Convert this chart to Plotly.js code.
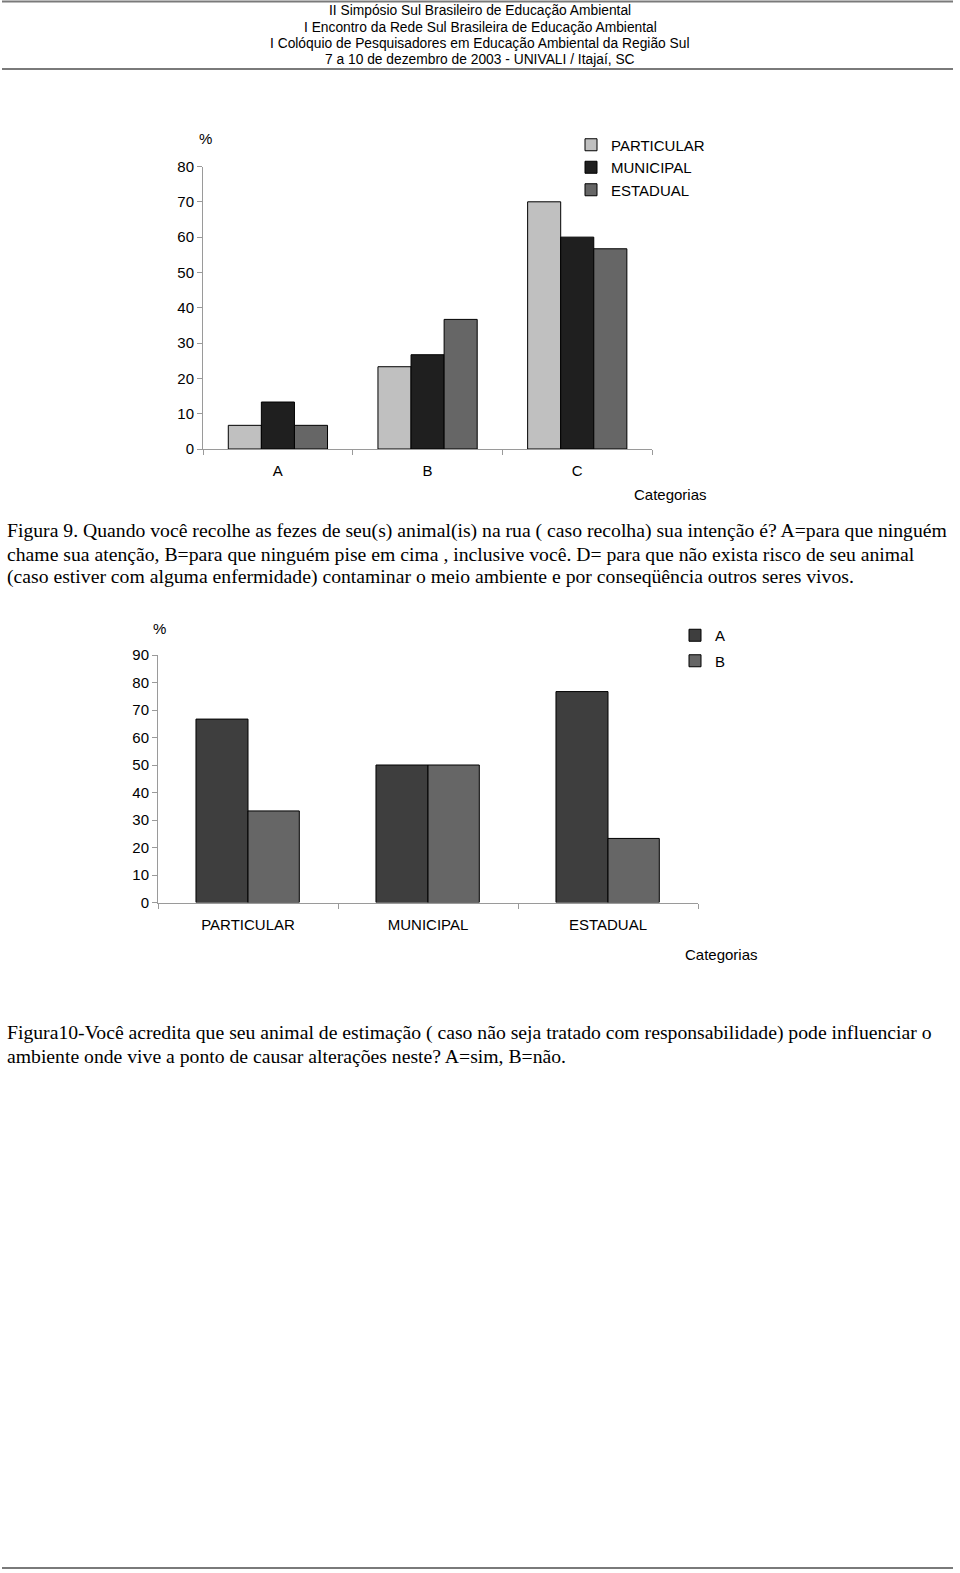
<!DOCTYPE html>
<html>
<head>
<meta charset="utf-8">
<script src="https://cdn.plot.ly/plotly-3.0.1.min.js"></script>
<style>
  html, body { margin: 0; padding: 0; background: #ffffff; }
  #page { width: 960px; height: 1573px; }
</style>
</head>
<body>
<div id="page"></div>
<script>
// ---------------- DATA ----------------
const headerLines = [
  'II Simpósio Sul Brasileiro de Educação Ambiental',
  'I Encontro da Rede Sul Brasileira de Educação Ambiental',
  'I Colóquio de Pesquisadores em Educação Ambiental da Região Sul',
  '7 a 10 de dezembro de 2003 - UNIVALI / Itajaí, SC'
];

// Figure 9
const categories1 = ['A', 'B', 'C'];
const seriesNames1 = ['PARTICULAR', 'MUNICIPAL', 'ESTADUAL'];
const particular1 = [6.7, 23.3, 70.0];
const municipal1 = [13.3, 26.7, 60.0];
const estadual1 = [6.7, 36.7, 56.7];
const yTicks1 = [0, 10, 20, 30, 40, 50, 60, 70, 80];

const caption1 = [
  'Figura 9. Quando você recolhe as fezes de seu(s) animal(is) na rua ( caso recolha) sua intenção é? A=para que ninguém',
  'chame sua atenção, B=para que ninguém pise em cima , inclusive você. D= para que não exista risco de seu animal',
  '(caso estiver com alguma enfermidade) contaminar o meio ambiente e por conseqüência outros seres vivos.'
];

// Figure 10
const categories2 = ['PARTICULAR', 'MUNICIPAL', 'ESTADUAL'];
const seriesNames2 = ['A', 'B'];
const serieA2 = [66.7, 50.0, 76.7];
const serieB2 = [33.3, 50.0, 23.3];
const yTicks2 = [0, 10, 20, 30, 40, 50, 60, 70, 80, 90];

const caption2 = [
  'Figura10-Você acredita que seu animal de estimação ( caso não seja tratado com responsabilidade) pode influenciar o',
  'ambiente onde vive a ponto de causar alterações neste? A=sim, B=não.'
];

const unitLabel = '%';
const axisTitle = 'Categorias';

// ---------------- LAYOUT HELPERS ----------------
const W = 960, H = 1573;
const px = v => v / W;
const py = v => 1 - v / H;

const SANS = 'Liberation Sans, Arial, sans-serif';
const SERIF = 'Liberation Serif, Times New Roman, serif';
const axisGrey = '#9a9a9a';

const barLine = { color: '#000000', width: 1 };

const traces = [
  { type: 'bar', name: seriesNames1[0], x: categories1, y: particular1, xaxis: 'x', yaxis: 'y',
    marker: { color: '#c0c0c0', line: barLine }, width: 0.221, offset: -0.331, legend: 'legend', hoverinfo: 'x+y+name' },
  { type: 'bar', name: seriesNames1[1], x: categories1, y: municipal1, xaxis: 'x', yaxis: 'y',
    marker: { color: '#1f1f1f', line: barLine }, width: 0.221, offset: -0.110, legend: 'legend', hoverinfo: 'x+y+name' },
  { type: 'bar', name: seriesNames1[2], x: categories1, y: estadual1, xaxis: 'x', yaxis: 'y',
    marker: { color: '#666666', line: barLine }, width: 0.221, offset: 0.111, legend: 'legend', hoverinfo: 'x+y+name' },

  { type: 'bar', name: seriesNames2[0], x: categories2, y: serieA2, xaxis: 'x2', yaxis: 'y2',
    marker: { color: '#3e3e3e', line: barLine }, width: 0.289, offset: -0.289, legend: 'legend2', legendgroup: 'gA', hoverinfo: 'x+y+name' },
  { type: 'bar', name: seriesNames2[1], x: categories2, y: serieB2, xaxis: 'x2', yaxis: 'y2',
    marker: { color: '#666666', line: barLine }, width: 0.285, offset: 0.0, legend: 'legend2', legendgroup: 'gB', hoverinfo: 'x+y+name' }
];

const commonX = {
  type: 'category',
  showline: true, linecolor: axisGrey, linewidth: 1,
  ticks: 'outside', ticklen: 5, tickcolor: axisGrey, tickwidth: 1,
  tickson: 'boundaries',
  showgrid: false, zeroline: false,
  tickfont: { family: SANS, size: 15, color: '#000000' },
  ticklabelstandoff: 8,
  fixedrange: true
};
const commonY = {
  showline: true, linecolor: axisGrey, linewidth: 1,
  ticks: 'outside', ticklen: 5, tickcolor: axisGrey, tickwidth: 1,
  showgrid: false, zeroline: false,
  tickmode: 'array',
  tickfont: { family: SANS, size: 15, color: '#000000' },
  fixedrange: true
};

const layout = {
  width: W, height: H, autosize: false,
  margin: { l: 0, r: 0, t: 0, b: 0, pad: 0 },
  paper_bgcolor: '#ffffff', plot_bgcolor: 'rgba(0,0,0,0)',
  barmode: 'group',
  showlegend: true,
  font: { family: SANS, size: 15, color: '#000000' },

  xaxis: Object.assign({}, commonX, { domain: [px(203), px(652)], anchor: 'y' }),
  yaxis: Object.assign({}, commonY, { domain: [py(449), py(166.5)], anchor: 'x',
    range: [0, 80], tickvals: yTicks1, ticktext: yTicks1.map(String) }),

  xaxis2: Object.assign({}, commonX, { domain: [px(158), px(698)], anchor: 'y2' }),
  yaxis2: Object.assign({}, commonY, { domain: [py(902.5), py(655)], anchor: 'x2',
    range: [0, 90], tickvals: yTicks2, ticktext: yTicks2.map(String) }),

  legend: {
    x: px(571), y: py(128.5), xanchor: 'left', yanchor: 'top',
    bgcolor: 'rgba(0,0,0,0)', borderwidth: 0,
    font: { family: SANS, size: 15, color: '#000000' },
    traceorder: 'normal', itemclick: false, itemdoubleclick: false
  },
  legend2: {
    x: px(675), y: py(619), xanchor: 'left', yanchor: 'top',
    bgcolor: 'rgba(0,0,0,0)', borderwidth: 0,
    font: { family: SANS, size: 15, color: '#000000' },
    traceorder: 'grouped', tracegroupgap: 3, itemclick: false, itemdoubleclick: false
  },

  shapes: [
    { type: 'line', xref: 'paper', yref: 'paper', x0: px(2), x1: px(953), y0: py(1.5), y1: py(1.5),
      line: { color: '#7a7a7a', width: 2 } },
    { type: 'line', xref: 'paper', yref: 'paper', x0: px(2), x1: px(953), y0: py(69), y1: py(69),
      line: { color: '#7a7a7a', width: 2 } },
    { type: 'line', xref: 'paper', yref: 'paper', x0: px(2), x1: px(953), y0: py(1568), y1: py(1568),
      line: { color: '#7a7a7a', width: 2 } }
  ],

  annotations: []
};

// header lines
const headerY = [11, 27.5, 43.5, 59.5];
headerLines.forEach((t, i) => {
  layout.annotations.push({ text: t, xref: 'paper', yref: 'paper', x: px(480), y: py(headerY[i]),
    xanchor: 'center', yanchor: 'middle', showarrow: false,
    font: { family: SANS, size: 13.8, color: '#000000' } });
});

// chart 1 labels
layout.annotations.push({ text: unitLabel, xref: 'paper', yref: 'paper', x: px(205), y: py(138.5),
  xanchor: 'center', yanchor: 'middle', showarrow: false, font: { family: SANS, size: 15 } });
layout.annotations.push({ text: axisTitle, xref: 'paper', yref: 'paper', x: px(670), y: py(494),
  xanchor: 'center', yanchor: 'middle', showarrow: false, font: { family: SANS, size: 15 } });

// chart 2 labels
layout.annotations.push({ text: unitLabel, xref: 'paper', yref: 'paper', x: px(159), y: py(628),
  xanchor: 'center', yanchor: 'middle', showarrow: false, font: { family: SANS, size: 15 } });
layout.annotations.push({ text: axisTitle, xref: 'paper', yref: 'paper', x: px(721), y: py(954),
  xanchor: 'center', yanchor: 'middle', showarrow: false, font: { family: SANS, size: 15 } });

// captions
const cap1Y = [530, 553.5, 577];
caption1.forEach((t, i) => {
  layout.annotations.push({ text: t, xref: 'paper', yref: 'paper', x: px(5), y: py(cap1Y[i]),
    xanchor: 'left', yanchor: 'middle', showarrow: false,
    font: { family: SERIF, size: 19.7, color: '#000000' } });
});
const cap2Y = [1032, 1055.5];
caption2.forEach((t, i) => {
  layout.annotations.push({ text: t, xref: 'paper', yref: 'paper', x: px(5), y: py(cap2Y[i]),
    xanchor: 'left', yanchor: 'middle', showarrow: false,
    font: { family: SERIF, size: 19.7, color: '#000000' } });
});

Plotly.newPlot('page', traces, layout, { displayModeBar: false, staticPlot: false, responsive: false });
</script>
</body>
</html>
